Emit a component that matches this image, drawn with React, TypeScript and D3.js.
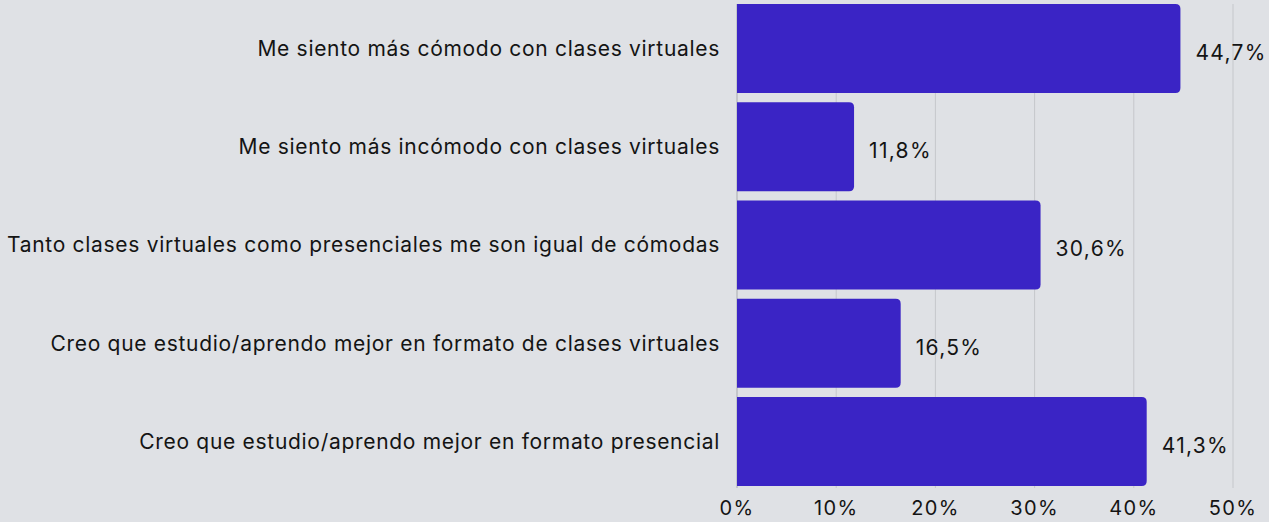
import React from "react";
import * as d3 from "d3";

const categories = [
  "Me siento más cómodo con clases virtuales",
  "Me siento más incómodo con clases virtuales",
  "Tanto clases virtuales como presenciales me son igual de cómodas",
  "Creo que estudio/aprendo mejor en formato de clases virtuales",
  "Creo que estudio/aprendo mejor en formato presencial",
];
const values = [44.7, 11.8, 30.6, 16.5, 41.3];
const ticks = [0, 10, 20, 30, 40, 50];

const W = 1269;
const H = 522;
const FONT = "Inter, 'Noto Sans', sans-serif";

export default function App() {
  const x = d3.scaleLinear().domain([0, 50]).range([737, 1233]);
  const y = d3
    .scaleBand<string>()
    .domain(categories)
    .range([4, 486])
    .paddingInner(0.094)
    .paddingOuter(0);
  const r = 5;
  const barPath = (x0: number, x1: number, y0: number, h: number) => {
    const rr = Math.min(r, (x1 - x0) / 2);
    return `M${x0},${y0}H${x1 - rr}Q${x1},${y0} ${x1},${y0 + rr}V${y0 + h - rr}Q${x1},${y0 + h} ${x1 - rr},${y0 + h}H${x0}Z`;
  };
  const fmt = (v: number) => v.toFixed(1).replace(".", ",") + "%";
  return (
    <svg
      width={W}
      height={H}
      style={{ position: "absolute", left: 0, top: 0, background: "#dfe1e5" }}
    >
      <rect x={0} y={0} width={W} height={H} fill="#dfe1e5" />
      {ticks.map((t) => (
        <line
          key={t}
          x1={x(t)}
          x2={x(t)}
          y1={4}
          y2={488}
          stroke={t === 0 ? "#a9abb0" : "#c5c7cb"}
          strokeWidth={1}
        />
      ))}
      {categories.map((c, i) => {
        const y0 = y(c)!;
        const h = y.bandwidth();
        return (
          <g key={c}>
            <path d={barPath(x(0), x(values[i]), y0, h)} fill="#3a24c5" />
            <text
              x={720}
              y={y0 + h / 2}
              dy="0.35em"
              textAnchor="end"
              fontFamily={FONT}
              fontSize={21}
              letterSpacing={0.7}
              fill="#141414"
            >
              {c}
            </text>
            <text
              x={x(values[i]) + 15}
              y={y0 + h / 2 + 4}
              dy="0.35em"
              fontFamily={FONT}
              fontSize={21}
              letterSpacing={1.3}
              fill="#141414"
            >
              {fmt(values[i])}
            </text>
          </g>
        );
      })}
      {ticks.map((t) => (
        <text
          key={"l" + t}
          x={x(t)}
          y={508}
          dy="0.35em"
          textAnchor="middle"
          fontFamily={FONT}
          fontSize={20}
          letterSpacing={1.3}
          fill="#141414"
        >
          {t + "%"}
        </text>
      ))}
    </svg>
  );
}
